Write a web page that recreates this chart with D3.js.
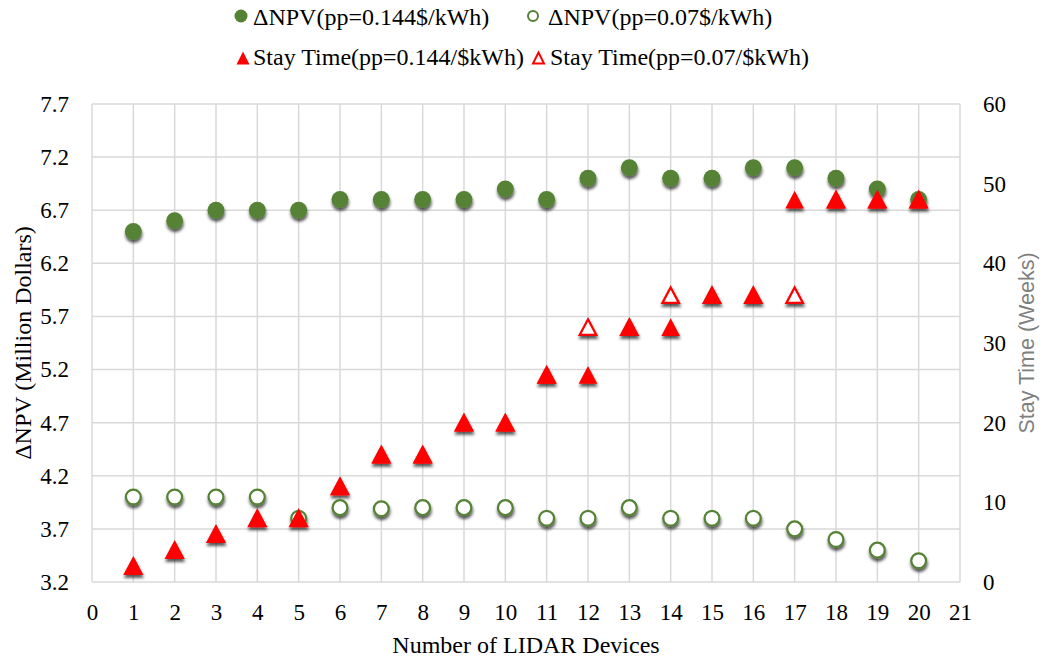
<!DOCTYPE html>
<html>
<head>
<meta charset="utf-8">
<script src="https://cdn.jsdelivr.net/npm/d3@7"></script>
<style>
  html, body { margin: 0; padding: 0; background: #fff; }
  svg { display: block; }
</style>
</head>
<body>
<svg id="chart" width="1043" height="662"></svg>
<script>
// ---- Data ----
const devices = [1,2,3,4,5,6,7,8,9,10,11,12,13,14,15,16,17,18,19,20];
const npvHigh = [6.5,6.6,6.7,6.7,6.7,6.8,6.8,6.8,6.8,6.9,6.8,7.0,7.1,7.0,7.0,7.1,7.1,7.0,6.9,6.8];
const npvLow  = [4.0,4.0,4.0,4.0,3.8,3.9,3.89,3.9,3.9,3.9,3.8,3.8,3.9,3.8,3.8,3.8,3.7,3.6,3.5,3.4];
const stayHigh = [2,4,6,8,8,12,16,16,20,20,26,26,32,32,36,36,48,48,48,48];
const stayLow  = [2,4,6,8,8,12,16,16,20,20,26,32,32,36,36,36,36,48,48,48];
const xTicks = [0,1,2,3,4,5,6,7,8,9,10,11,12,13,14,15,16,17,18,19,20,21];
const leftTicks = [3.2,3.7,4.2,4.7,5.2,5.7,6.2,6.7,7.2,7.7];
const rightTicks = [0,10,20,30,40,50,60];
const legendLabels = ["ΔNPV(pp=0.144$/kWh)","ΔNPV(pp=0.07$/kWh)","Stay Time(pp=0.144/$kWh)","Stay Time(pp=0.07/$kWh)"];
const xTitle = "Number of LIDAR Devices";
const yLeftTitle = "ΔNPV (Million Dollars)";
const yRightTitle = "Stay Time (Weeks)";

// ---- Layout ----
const L = 92, R = 960, T = 104, B = 582;
const green = "#548235", red = "#ff0000", grid = "#d9d9d9";
const serif = "'Liberation Serif', 'Times New Roman', serif";

const svg = d3.select("#chart");
const x = d3.scaleLinear().domain([0,21]).range([L,R]);
const yL = d3.scaleLinear().domain([3.2,7.7]).range([B,T]);
const yR = d3.scaleLinear().domain([0,60]).range([B,T]);

// shadow filter
const defs = svg.append("defs");
const f = defs.append("filter").attr("id","shadow").attr("x","-50%").attr("y","-50%").attr("width","200%").attr("height","220%");
f.append("feDropShadow").attr("dx",0.5).attr("dy",3).attr("stdDeviation",1.8)
  .attr("flood-color","#000").attr("flood-opacity",0.65);

// gridlines
svg.append("g").selectAll("line").data(leftTicks).join("line")
  .attr("x1",L).attr("x2",R).attr("y1",d=>yL(d)).attr("y2",d=>yL(d))
  .attr("stroke",grid).attr("stroke-width",1.5);
svg.append("g").selectAll("line").data(xTicks).join("line")
  .attr("y1",T).attr("y2",B).attr("x1",d=>x(d)).attr("x2",d=>x(d))
  .attr("stroke",grid).attr("stroke-width",1.5);

// axes
const axB = svg.append("g").attr("transform",`translate(0,${B})`)
  .call(d3.axisBottom(x).tickValues(xTicks).tickSize(0).tickFormat(d3.format("d")));
axB.select(".domain").remove();
axB.selectAll("text").attr("y",38).attr("dy",0).style("font-family",serif).style("font-size","23px").attr("fill","#000");

const axL = svg.append("g").attr("transform",`translate(${L},0)`)
  .call(d3.axisLeft(yL).tickValues(leftTicks).tickSize(0).tickPadding(23).tickFormat(d3.format(".1f")));
axL.select(".domain").remove();
axL.selectAll("text").style("font-family",serif).style("font-size","23px").attr("fill","#000");

const axR = svg.append("g").attr("transform",`translate(${R},0)`)
  .call(d3.axisRight(yR).tickValues(rightTicks).tickSize(0).tickPadding(23).tickFormat(d3.format("d")));
axR.select(".domain").remove();
axR.selectAll("text").style("font-family",serif).style("font-size","23px").attr("fill","#000");

// titles
svg.append("text").attr("x",(L+R)/2).attr("y",653).attr("text-anchor","middle")
  .style("font-family",serif).style("font-size","24px").text(xTitle);
svg.append("text").attr("transform",`translate(31,${(T+B)/2}) rotate(-90)`).attr("text-anchor","middle")
  .style("font-family",serif).style("font-size","24px").text(yLeftTitle);
svg.append("text").attr("transform",`translate(1034,${(T+B)/2}) rotate(-90)`).attr("text-anchor","middle")
  .style("font-family","'Liberation Sans', Arial, sans-serif").style("font-size","21.5px").attr("fill","#7f7f7f").text(yRightTitle);

// markers
const tri = (w,h) => `M0,${-h/2}L${w/2},${h/2}L${-w/2},${h/2}Z`;
const pts = (ys) => devices.map((d,i)=>({x:d,y:ys[i]}));

const mk = svg.append("g").attr("filter","url(#shadow)");
mk.append("g").selectAll("circle").data(pts(npvHigh)).join("circle")
  .attr("cx",d=>x(d.x)).attr("cy",d=>yL(d.y)).attr("r",8.5).attr("fill",green);
mk.append("g").selectAll("circle").data(pts(npvLow)).join("circle")
  .attr("cx",d=>x(d.x)).attr("cy",d=>yL(d.y)).attr("r",7.4).attr("fill","#fff")
  .attr("stroke",green).attr("stroke-width",2.25);
mk.append("g").selectAll("path").data(pts(stayLow)).join("path")
  .attr("transform",d=>`translate(${x(d.x)},${yR(d.y)})`).attr("d",tri(16.5,15.5))
  .attr("fill","#fff").attr("stroke",red).attr("stroke-width",2.25);
mk.append("g").selectAll("path").data(pts(stayHigh)).join("path")
  .attr("transform",d=>`translate(${x(d.x)},${yR(d.y)})`).attr("d",tri(18.7,17.7))
  .attr("fill",red);

// legend
const lg = svg.append("g").style("font-family",serif).style("font-size","24px");
lg.append("circle").attr("cx",241).attr("cy",16).attr("r",6.5).attr("fill",green);
lg.append("text").attr("x",253).attr("y",25).text(legendLabels[0]);
lg.append("circle").attr("cx",533).attr("cy",16).attr("r",5).attr("fill","#fff").attr("stroke",green).attr("stroke-width",2);
lg.append("text").attr("x",548).attr("y",25).text(legendLabels[1]);
lg.append("path").attr("transform","translate(243,58)").attr("d",tri(13,13)).attr("fill",red);
lg.append("text").attr("x",253).attr("y",65).text(legendLabels[2]);
lg.append("path").attr("transform","translate(538.5,58)").attr("d",tri(11,11)).attr("fill","#fff").attr("stroke",red).attr("stroke-width",2);
lg.append("text").attr("x",550).attr("y",65).text(legendLabels[3]);
</script>
</body>
</html>
